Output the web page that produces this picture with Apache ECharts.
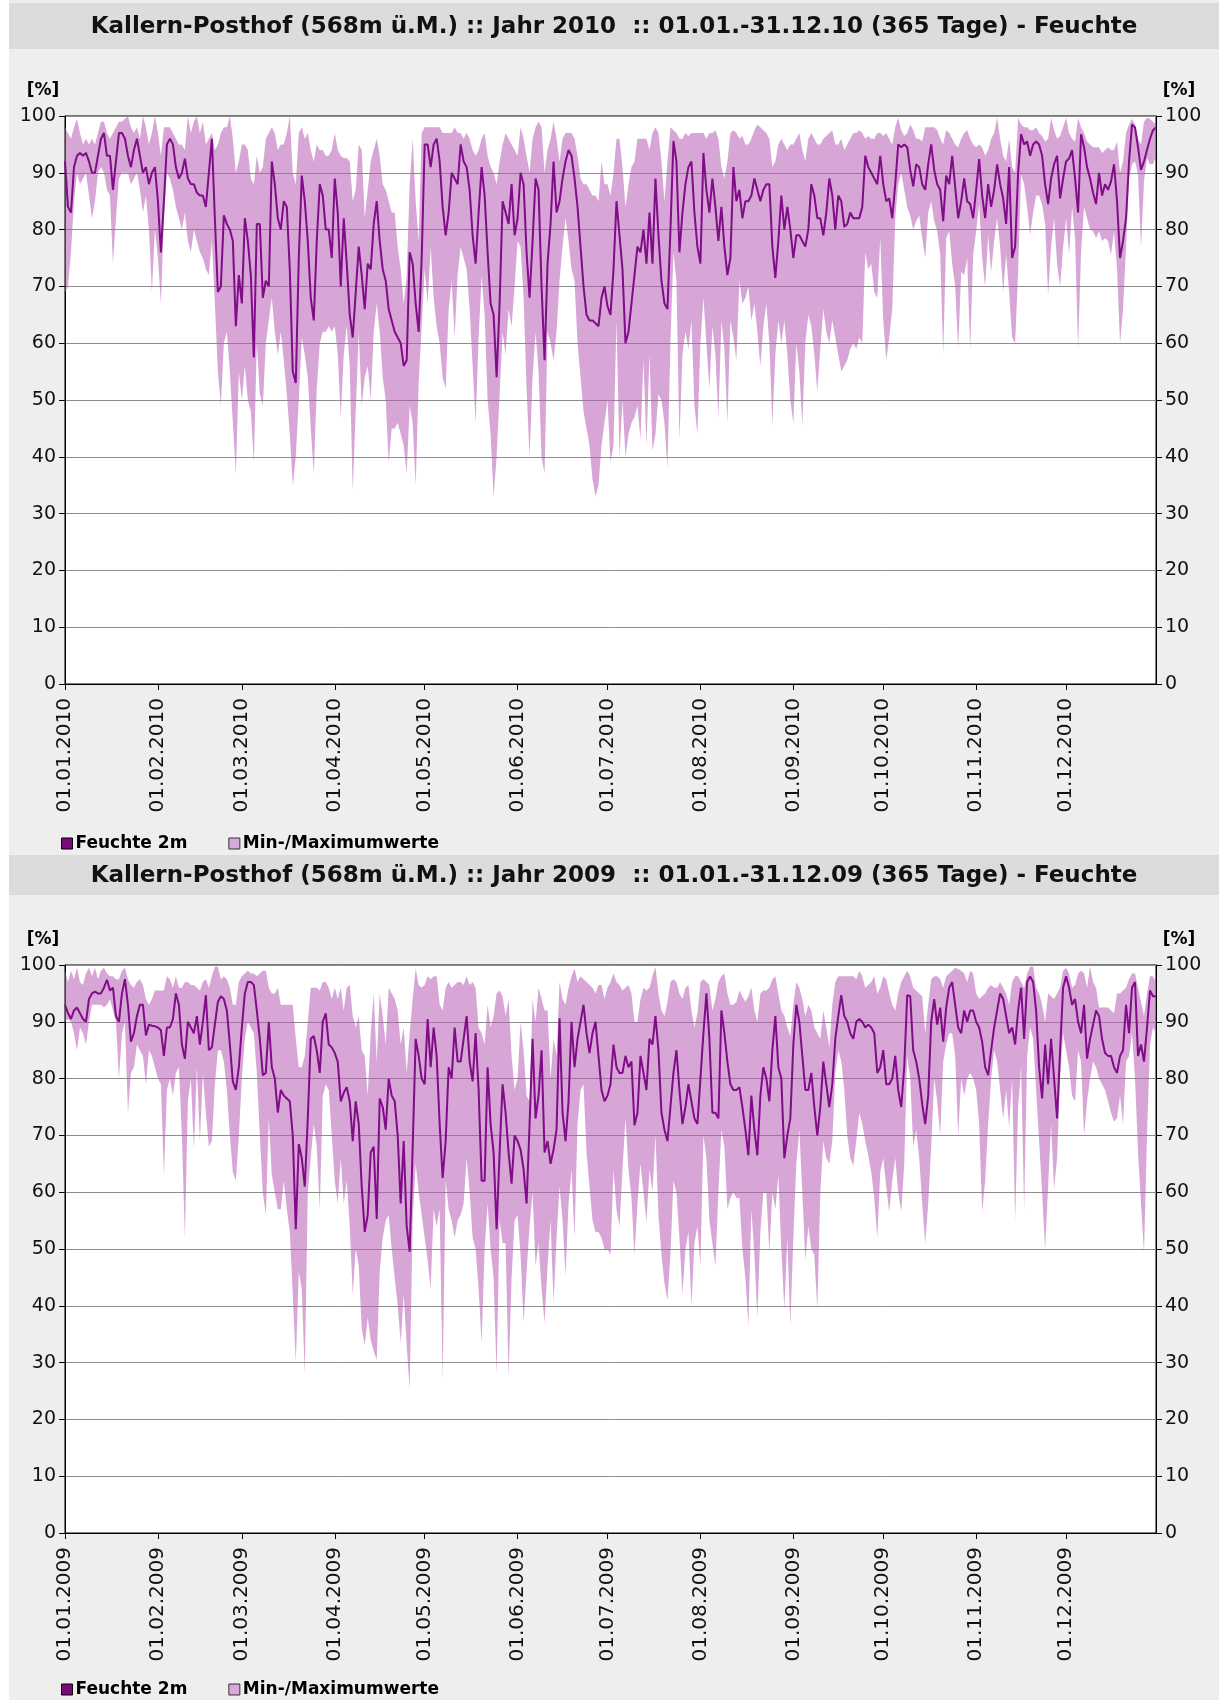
<!DOCTYPE html>
<html><head><meta charset="utf-8">
<script src="https://cdn.jsdelivr.net/npm/echarts@6/dist/echarts.min.js"></script>
<style>html,body{margin:0;padding:0;background:#fff;}#c{width:1219px;height:1700px;}</style>
</head><body><div id="c"></div>
<script>
// ---- 2010 daily values (01.01.-31.12.) ----
const mean2010=[92,84,83,91,93,93.5,93,93.5,92,90,
90,93,96,97,93,93,87,92,97,97,
96,93,91,94,96,93,90,91,88,90,
91,85,76,85,95,96,95,91,89,90,
92.5,89,88,88,86.5,86,86,84,90,96,
82,69,70,82.5,81,80,78,63,72,67,
82,78,72,57.5,81,81,68,71,70,92,
88,82,80,85,84,73,55,53,75,89.5,
85,78,68,64,78,88,86,80,80,75,
89,83,70,82,74,65,61,69,77,72,
66,74,73,81,85,78,73,71,66,64,
62,61,60,56,57,76,74,67,62,75,
95,95,91,95,96,92,84,79,83,90,
89,88,95,92,91,87,79,74,83,91,
86,76,67,65,54,67,85,83,81,88,
79,82,90,88,76,68,78,89,87,70,
57,74,81,92,83,85,89,92,94,93,
89,84,77,70,65,64,64,63.5,63,68,
70,66.5,65,73,85,79,73,60,62,67,
72,77,76,80,74,83,74,89,79,71,
67,66,80,95.6,92,76,83,88,91,92,
83,77,74,93.5,87,83,89,84,78,84,
77,72,75,91,85,87,82,85,85,86,
89,87,85,87,88,88,77,71.5,78,86,
80,84,80,75,79,79,78,77,80,88,
86,82,82,79,83,89,86,80,86,85,
80.5,81,83,82,82,82,84,93,91,90,
89,88,93,88,85,85.5,82,88,95,94.5,
95,94.5,90.5,87.6,91.5,91,88,87,91.5,95,
90.5,88,87,81.5,89.5,88,93,87.5,82,85,
89,85,84.5,82,87,92.4,86,82,88,84,
87,91.5,88,85.5,81,91,75,77,90,96.8,
95,95.5,93,95,95.5,95,93,88,84.5,89,
91.5,93,85.5,89,92,92.5,94,89,83,96.8,
94.5,91,89,86.5,84.5,90,86,88,87,88.5,
91.5,85,75,78,82,92,98.5,98,94.5,90.5,
92,94,96,97.5,98];
const max2010=[98,97,96,98,99.5,97,95,96,95,96,
95,97,99,99,97,96,97,98,99,99,
99.5,100,98,97,98,96,100,98,95,97,
100,97,93,98,98,98,97,96,95,95,
94,100,97,99,100,97,99,95,96,97,
94,95,97,98,98,100,96,90,92,95,
95,94,89,88,93,90,91,96,97,98,
97,94,95,95,97,100,90,88,97,98,
96,97,94,92,95,94,94,93,93,94,
97,94,93,92.6,92.6,92,85,87,95,94,
82,87,92,94,96,93,88,87,85,83,
83,77,73,67,72,88,96,85,78,97,
98,98,98,98,98,98,97,97,97,97,
98,97,97,96,97,96,94,93,94,96,
97,93,91,90,88,92,95,97,96,95,
94,93,98,96,93,90,96,98,99,98,
90,94,96,99,96,92,96,97,97,97,
96,93,89,88,88,87,86,86,85,92,
88,88,86,90,96,96,91,84,88,91,
92,96,96,96,96,94,97,98,97,92,
85,92,98,97.5,97,96,96,97,96.5,97,
97,97,97,97,96,97,97,97.5,96,91,
89,92,97,97.5,97,96,96.5,95,95,96,
97.5,98.5,98,97.5,97,96,91,92,95,96,
95,94,95,95,96,97,94,92,96,97,
96,95,95,96,96.5,97,97.5,95,95,96,
94,95,96,97,97,97.5,97,96,96.5,96,
96,97,97,96.5,97,96,95,98,99.7,97.5,
96.5,97,98.5,97.5,96,96,95.5,98,98,98,
98,97.5,96,95,97.5,97,96,95,94.5,96,
97,97.5,96,95,94.5,95,94.5,93,94,96,
97,99.7,96,93,92,96,91,90,99.7,98.5,
98,98,97.5,97.5,98,97,96.5,95.5,96,99.7,
97.5,96,96.5,98,99.7,97,96,95.5,99.7,98,
97,95.5,95,94.5,94.5,94.5,93.5,94,94.5,94,
94,95.5,90,92,97,98.5,99.5,98.5,96,95,
99,99.7,99.5,99,98.5];
const min2010=[69,70,76,85,90,88,89,90,86,82,
85,90,91,90,87,86,74,82,89,90,
90,90,88,89,90,87,83,86,80,69,
80,75,67,82,90,89,87,84,82,80,
83,78,76,80,78,76,75,73,72,78,
67,55,49,60,62,55,46,37,55,50,
56,50,48,39,60,51,49,60,64,68,
62,58,62,57,51,44,35,40,50,61,
58,54,45,37,52,60,62,62,63,62,
63,58,47,58,63,56,34,48,62,49,
54,56,50,62,67,62,54,50,39,45,
45,46,44,42,37,49,46,35,53,63,
73,67,77,68,63,60,54,52,66,71,
61,72,77,75,73,66,56,46,61,72,
65,50,44,33,40,51,62,58,66,63,
70,78,77,68,52,40,54,62,55,40,
37,62,60,57,62,71,77,82,78,73,
71,60,54,48,45,42,36,33,35,42,
46,50,39,42,64,40,50,40,44,46,
47,49,43,57,42,58,41,44,51,50,
46,38,60,76,71,43,58,62,59,64,
49,44,60,68,60,52,63,58,47,64,
59,46,64,61,57,71,67,68,70,64,
67,62,56,63,67,60,45.6,58,64,60,
64,58,50,46,60,55,45.6,60,65,63,
58,51.5,59,66,62,60,64,61,58,55,
56,57,59,60,59,61,60,76,73,74,
69,68,78.5,64,57,61,66,82,88,90,
87,84,82.5,80,81.5,82.5,78.5,75,83,85,
81.5,79.7,75.6,58,78.5,79.7,74,70,59,72.6,
72,75,59,75.6,79.7,84.4,75,70,79,72.6,
78,82,77,69,75.6,69,61,60,72.6,89.7,
88,84,79,83,86,86,84.4,81,68.5,77,
82,74,70,76.8,82,75.6,84,78.5,59,76,
84,82,80,79.7,78.5,79.7,78,78.5,78,75.6,
79.7,73,60,66,77,89,91.5,92,89.7,77,
88.5,92.6,91.5,91.5,93];
// ---- 2009 daily values (01.01.-31.12.) ----
const mean2009=[93,91.5,90.5,92,92.5,91.5,90.5,90,94,95,
95.3,95,95,96,97.4,95.5,96,91,90,95,
97.5,93,86.5,88,91,93,93,87.6,89.5,89.3,
89.2,89,88.5,84,89,89,90.5,95,93,86,
83.5,90,89,88,91,86,90,94.7,85,85.5,
89.5,93.5,94.5,94,92,86,79.5,78,82,89,
95,97,97,96.5,92,87,80.6,81,90,82,
80,74,78,77,76.5,76,70,53.5,68.5,66,
61,73,87,87.5,85,81,90,91.5,86,85.5,
84.5,83,76,77.5,78.5,76,69,76,72,61,
53,56,67,68,55.3,76.5,75,71,80,77,
76,70,58,69,54,49.5,68,87,84,80,
79,90.5,82,89,84,72,62.5,69,82,80,
89,83,83,87,91,83,79.5,88,78,62,
62,82,72,67,53.5,67,79,74,67,61.5,
70,69,67.5,64,58,72,87,73,77,85,
67,69,65,67.5,71,90.6,74,69,76,90,
82,87,90,93,88,84.5,88,90,84,78,
76,77,79,86,82,81,81,84,82,83,
71.8,74,84,81,78,87,86,91,85,74,
71,69,75,81,85,78,72,75,79,76,
73,72,80,88,95,87,74,74,73,92,
88,83,79,78,78,78.5,75,71,66.5,77,
71,66.5,77,82,80,76,85,91,82,80,
66,70,73,86,93,90,84,78,78,81,
75,70,75,83,79,75,79,87,91,94.7,
91,90,88,87,90,90.5,90,89,89.5,89,
88,81,82,85,79,79,80,84,78,75,
82,94.7,94.5,85,83,80,75.5,72,77,90,
94,89.5,92.5,86.5,92.5,96,97,93,89,88,
92,90,92,92,90,89,86.5,82,80.6,85,
89,92,95,94,91,88,89,86,92,96,
87,97,98,97,92,82,76.5,86,79,87,
80,73,85,96,98,96,93,94,90,88,
93,83.5,87,89.5,92,91,87,84.5,84,84,
82,81,84,85,93,88,96,97,84,86,
83,89,95.5,94.5,94.5];
const max2009=[99,97,99,97.5,99.5,97,96.5,98.5,99.5,98,
99.5,97.5,99,99.5,98.5,98,98,97.5,97.5,99,
99.5,97.5,96.5,96,97,97.5,96.5,94,93,94,
95.5,95.5,95.5,95.5,98,97.5,96,98,96,96,
97,97,96.5,96.5,96,95.5,97,97.5,96,98,
99.7,99.7,97.5,98,97.5,96,93,93,97,98,
98.5,99,98.5,98.5,98,98.5,99,99,96,95,
95,96,93,93,93,93,93,87,82,82,
84,90,96,96,96,95.5,97,97,96,94,
96,94,96,92,96,96.5,91,89,91,85,
84,77,88,95,83,95,91,86,96,95,
94,92,86,89,81,88,94,99.4,96.5,96,
96.5,98,97.5,98,98,93,92,96,97,96,
96.5,97,97,96.5,98,96.5,97,96,89,88,
86,93,89,91,95,95.5,94.5,91,94,84,
78,80,90,85,77,76,94,90,96,94,
92,92,80,87,84,97,94,93,96,98,
99.4,97,98,97.5,97,96.5,96,95,96.5,96.5,
94,96,97,98.5,97,96.5,95.5,96,96.5,95,
90,90,94,96,95.5,96,98,99.7,95,92,
91,93.5,97,97.5,97,95,94,96,96.5,92,
89,91.5,97,97.5,97,96.5,92,94,97,98,
98.5,95,93,93,93.5,95.5,94.5,93.5,94.5,96,
92,90,95,95.5,95.5,96,97.5,98,95,92,
91,89,87.5,93,97,96,94,91,93,92,
89,88,87,92,89,85.5,93,97,98,98,
98,98,98,98,97.5,99,98,96,96.5,97,
98,95,96,98,97.5,95,93,92,95,97,
98,99,98,96,95.5,95,94.5,88,93,97.5,
98,98,97.5,96,98,98.5,99,99.5,99.3,99,
98.5,97,99,98.5,95,94,94.5,95,96,96.5,
96,96,97,96,95,93,97,98,98,97,
96,98.5,99.7,99.7,96,95,93,90,95,94.5,
94,95,96,99,99.5,98.5,96,96.5,98.5,99,
98.5,96,99.7,97,96,92.5,92.5,92.5,92.5,92,
91.5,95,95,95.5,96,97.5,98.5,98.5,96,93.5,
91,95,98,98,97];
const min2009=[90,90.5,90,88,85,89,88,86,90,93,
93,93,93,92.5,93,94,92,90,80,88,
90,74,81,82,86,85,84,79,85,84,
82,80,79,63,78,80,77,81,82,70,
52,76,80,67.6,82,69,81,74,68,69,
79,85,85,83,78,70,63.5,62,70,80,
87,90,89,88,81,70,60,56,73,63,
60,57,57,62,57,53,42,30,46,43,
28,60,66,72,68,57,77,79,78,70,
62,58,66,58,62,54,42,50,47,36,
33,38,34,32,30.5,46,52,55,56,50,
45,40,33.5,42,33,25.3,55,65,60,56,
52,48,43,57,54,57,27,62,57,55,
52,55,56,58,66,60,52,50,43,33.5,
50,58,50,45,28,55,51,51,27.6,45,
55,56,49,37,46,54,60,47,51,43,
37,47,55,40.6,52,61,55,45.3,58,64,
52,72,78,79,67,61,55,53,53,52,
50,50,49,64,57,54,64,73,64,59,
49,58,65,60,54.7,64,60,70,56,49,
44,41,49,62,60,52,42,50,53,40,
51,54,47,70,66,55,51,47,60,71,
68,57,59,60,59,59,50,45,36.5,57,
49,38,53,60,60,49.4,60,57,63,50,
39.4,52,36.5,52,65,71,60,48,54,50,
49,39.4,60,69,66,65,69,81,85,83,
78,70,66,64.7,69,74,72,69,66.5,63.5,
59,52,63.5,66,61,56.5,62,66,60,56.5,
65,84,80,68,71,66,58,51,58,68,
80,76,70,83,86,88,88,84,70,80,
77,80,81,80,78,72,56.5,62,72,80,
85,83,78,73,78,71.5,80,55,75,82,
57,84,89,87,78,69,60,50,61,72,
60.6,66,80,88,85,82,77,76,85,83,
70,76,80,83,82,80,79,78,76,74,
72.4,73,77,72,83,84,88,80,67,58,
49.4,70,86,89,88];
const yTicks=[0,10,20,30,40,50,60,70,80,90,100];
const titles=['Kallern-Posthof (568m ü.M.) :: Jahr 2010  :: 01.01.-31.12.10 (365 Tage) - Feuchte',
              'Kallern-Posthof (568m ü.M.) :: Jahr 2009  :: 01.01.-31.12.09 (365 Tage) - Feuchte'];
const unitLabel='[%]';
const legendNames=['Feuchte 2m','Min-/Maximumwerte'];

function dayLabels(y){const out=[];const t0=Date.UTC(y,0,1);for(let i=0;i<365;i++){const d=new Date(t0+i*86400000);out.push(String(d.getUTCDate()).padStart(2,'0')+'.'+String(d.getUTCMonth()+1).padStart(2,'0')+'.'+y);}return out;}
const cat2010=dayLabels(2010), cat2009=dayLabels(2009);

const FONT='"DejaVu Sans", Verdana, sans-serif';
const LINE_C='#800c88', BAND_C='rgba(182,93,182,0.55)';
const panels=[
 {cat:cat2010, mean:mean2010, mx:max2010, mn:min2010, top:116, band:3, bandH:46, legendTop:830, unitY:91},
 {cat:cat2009, mean:mean2009, mx:max2009, mn:min2009, top:965, band:855, bandH:40, legendTop:1676, unitY:940}
];
const monthStart=(i,v)=>v.slice(0,2)==='01';
const grids=[],xAxes=[],yAxes=[],series=[],legends=[],graphics=[];
graphics.push({type:'rect',shape:{x:0,y:0,width:9,height:1700},style:{fill:'#ffffff'},z:-1});
panels.forEach((p,k)=>{
  grids.push({left:65,top:p.top,width:1091,height:568,show:true,backgroundColor:'#fff',borderColor:'#000',borderWidth:1});
  xAxes.push({gridIndex:k,type:'category',data:p.cat,boundaryGap:false,
    axisLine:{lineStyle:{color:'#000',width:1}},
    axisTick:{interval:monthStart,length:6,lineStyle:{color:'#000'}},
    axisLabel:{interval:monthStart,rotate:90,fontSize:20,color:'#111',margin:14,fontFamily:FONT},
    splitLine:{show:false}});
  const ya={gridIndex:k,type:'value',min:yTicks[0],max:yTicks[yTicks.length-1],interval:10,
    axisLine:{show:true,lineStyle:{color:'#000'}},axisTick:{show:true,length:6,lineStyle:{color:'#000'}},
    axisLabel:{fontSize:19,color:'#111',margin:9,fontFamily:FONT}};
  yAxes.push(Object.assign({},ya,{position:'left',splitLine:{show:true,lineStyle:{color:'#8c8c8c',width:1}}}));
  yAxes.push(Object.assign({},ya,{position:'right',splitLine:{show:false}}));
  const diff=p.mx.map((v,i)=>v-p.mn[i]);
  series.push({type:'line',name:'base'+k,xAxisIndex:k,yAxisIndex:2*k,data:p.mn,stack:'band'+k,symbol:'none',lineStyle:{opacity:0,width:0},silent:true});
  series.push({type:'line',name:legendNames[1],xAxisIndex:k,yAxisIndex:2*k,data:diff,stack:'band'+k,symbol:'none',lineStyle:{opacity:0,width:0},itemStyle:{color:'#d6a6d6'},areaStyle:{color:BAND_C,opacity:1},silent:true});
  series.push({type:'line',name:legendNames[0],xAxisIndex:k,yAxisIndex:2*k,data:p.mean,symbol:'none',lineStyle:{color:LINE_C,width:2},itemStyle:{color:LINE_C},silent:true});
  legends.push({left:56,top:p.legendTop,icon:'rect',itemWidth:11,itemHeight:11,itemGap:41,selectedMode:false,
    textStyle:{fontFamily:FONT,fontWeight:'bold',fontSize:17,color:'#000',padding:[0,0,0,-2]},
    data:[{name:legendNames[0],itemStyle:{color:'#7a0a7a',borderColor:'#000',borderWidth:1}},
          {name:legendNames[1],itemStyle:{color:'#d8a8d8',borderColor:'#333',borderWidth:1}}]});
  graphics.push({type:'rect',shape:{x:9,y:p.band,width:1210,height:p.bandH},style:{fill:'#dcdcdc'},z:-1});
  graphics.push({type:'text',x:614,y:p.band+p.bandH/2+1,style:{text:titles[k],textAlign:'center',textVerticalAlign:'middle',align:'center',verticalAlign:'middle',font:'bold 23px '+FONT,fill:'#111'}});
  graphics.push({type:'text',x:43,y:p.unitY,style:{text:unitLabel,textAlign:'center',textVerticalAlign:'middle',align:'center',verticalAlign:'middle',font:'bold 17px '+FONT,fill:'#000'}});
  graphics.push({type:'text',x:1179,y:p.unitY,style:{text:unitLabel,textAlign:'center',textVerticalAlign:'middle',align:'center',verticalAlign:'middle',font:'bold 17px '+FONT,fill:'#000'}});
});
const chart=echarts.init(document.getElementById('c'),null,{renderer:'canvas'});
chart.setOption({backgroundColor:'#eeeeee',animation:false,grid:grids,xAxis:xAxes,yAxis:yAxes,series:series,legend:legends,graphic:graphics});
</script></body></html>
